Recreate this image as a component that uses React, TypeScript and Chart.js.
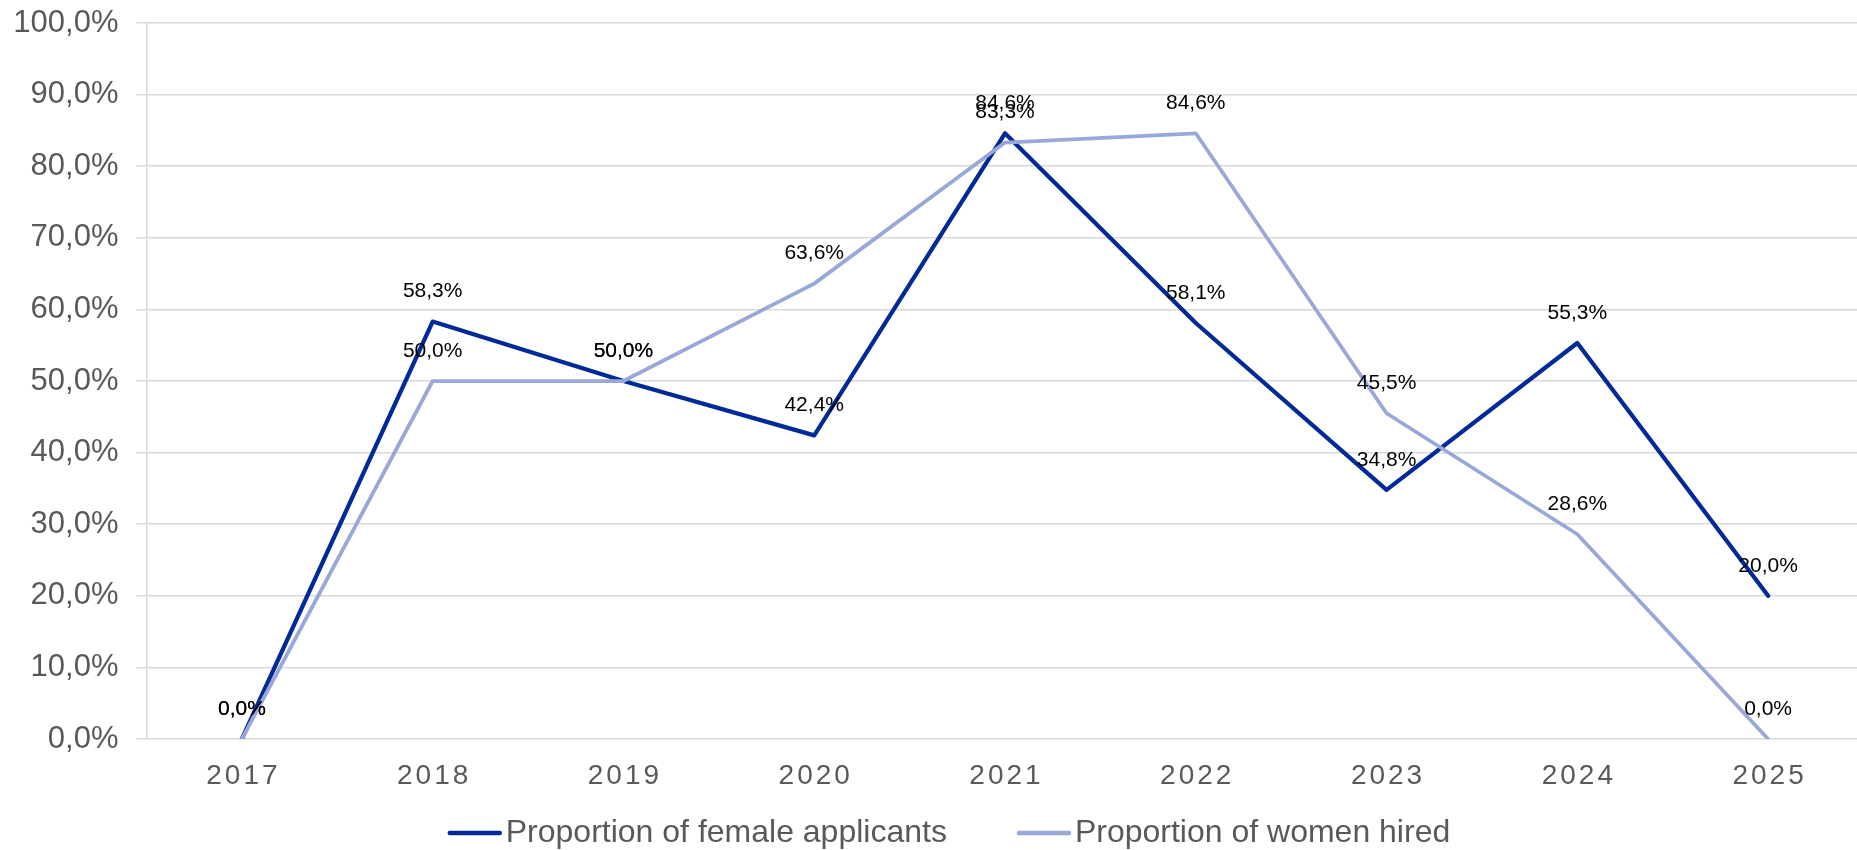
import React, { useEffect, useRef } from "react";
import { Chart, registerables } from "chart.js";

Chart.register(...registerables);

const years = ["2017", "2018", "2019", "2020", "2021", "2022", "2023", "2024", "2025"];
const femaleApplicants = [0, 58.3, 50.0, 42.4, 84.6, 58.1, 34.8, 55.3, 20.0];
const womenHired = [0, 50.0, 50.0, 63.6, 83.3, 84.6, 45.5, 28.6, 0.0];
const seriesNames = ["Proportion of female applicants", "Proportion of women hired"];
const yTicks = [0, 10, 20, 30, 40, 50, 60, 70, 80, 90, 100];

const DARK = "#002a97";
const LIGHT = "#99a8d8";
const FONT = "'Liberation Sans', Arial, sans-serif";

const fmt = (v: number) => v.toFixed(1).replace(".", ",") + "%";

const dataLabels = {
  id: "dataLabels",
  afterDatasetsDraw(chart: any) {
    const ctx = chart.ctx;
    ctx.save();
    ctx.font = `21px ${FONT}`;
    ctx.fillStyle = "#000000";
    ctx.textAlign = "center";
    ctx.textBaseline = "middle";
    chart.data.datasets.forEach((ds: any, i: number) => {
      const meta = chart.getDatasetMeta(i);
      meta.data.forEach((pt: any, j: number) => {
        const v = ds.data[j].y;
        ctx.fillText(fmt(v), pt.x, pt.y - 30);
      });
    });
    ctx.restore();
  },
};

const customLegend = {
  id: "customLegend",
  afterDraw(chart: any) {
    const ctx = chart.ctx;
    ctx.save();
    ctx.font = `32px ${FONT}`;
    ctx.textBaseline = "middle";
    ctx.textAlign = "left";
    const boxW = 54;
    const gapText = 4;
    const gapItems = 70;
    const items = chart.data.datasets.map((ds: any) => ({
      label: ds.label,
      color: ds.borderColor,
      w: boxW + gapText + ctx.measureText(ds.label).width,
    }));
    const total = items.reduce((s: number, it: any) => s + it.w, 0) + gapItems * (items.length - 1);
    let x = 949 - total / 2;
    const y = chart.height - 17;
    items.forEach((it: any) => {
      ctx.strokeStyle = it.color;
      ctx.lineWidth = 4.5;
      ctx.lineCap = "round";
      ctx.beginPath();
      ctx.moveTo(x + 2, y);
      ctx.lineTo(x + boxW - 2, y);
      ctx.stroke();
      ctx.fillStyle = "#595959";
      ctx.fillText(it.label, x + boxW + gapText, y);
      x += it.w + gapItems;
    });
    ctx.restore();
  },
};

const spacedXLabels = {
  id: "spacedXLabels",
  beforeDraw(chart: any) {
    const sc = chart.scales.x;
    if (sc && !sc.__patched) {
      const orig = sc.drawLabels.bind(sc);
      sc.drawLabels = (area: any) => {
        const ctx = sc.ctx;
        ctx.save();
        (ctx as any).letterSpacing = "3px";
        ctx.translate(1.5, 0);
        orig(area);
        ctx.restore();
      };
      sc.__patched = true;
    }
  },
};

export default function App() {
  const ref = useRef<HTMLCanvasElement | null>(null);

  useEffect(() => {
    document.body.style.margin = "0";
    if (!ref.current) return;
    const chart = new Chart(ref.current, {
      type: "line",
      data: {
        datasets: [
          {
            label: seriesNames[0],
            data: femaleApplicants.map((v, i) => ({ x: i, y: v })),
            borderColor: DARK,
            backgroundColor: DARK,
            borderWidth: 4.25,
            pointRadius: 0,
            borderCapStyle: "round",
            borderJoinStyle: "round",
            tension: 0,
            order: 1,
          },
          {
            label: seriesNames[1],
            data: womenHired.map((v, i) => ({ x: i, y: v })),
            borderColor: LIGHT,
            backgroundColor: LIGHT,
            borderWidth: 3.75,
            pointRadius: 0,
            borderCapStyle: "round",
            borderJoinStyle: "round",
            tension: 0,
            order: 0,
          },
        ],
      },
      options: {
        responsive: false,
        animation: false,
        layout: { padding: { top: 23, left: 0, right: 0, bottom: 51 } },
        plugins: {
          legend: { display: false },
          tooltip: { enabled: false },
        },
        scales: {
          x: {
            type: "linear",
            min: -0.5,
            max: 8.466,
            grid: { display: false, drawTicks: false },
            border: { display: false },
            afterFit: (s: any) => {
              s.height = 60;
              s.paddingLeft = 0;
              s.paddingRight = 0;
            },
            afterBuildTicks: (s: any) => {
              s.ticks = years.map((_, i) => ({ value: i }));
            },
            ticks: {
              autoSkip: false,
              maxRotation: 0,
              padding: 20,
              color: "#595959",
              font: { family: FONT, size: 28 },
              callback: (v: any) => (Number.isInteger(v) ? years[v] : ""),
            },
          },
          y: {
            min: 0,
            max: 100,
            afterFit: (s: any) => {
              s.width = 146.5;
              s.paddingTop = 0;
              s.paddingBottom = 0;
            },
            afterBuildTicks: (s: any) => {
              s.ticks = yTicks.map((v) => ({ value: v }));
            },
            grid: { color: "#d9d9d9", lineWidth: 1.5, tickLength: 10 },
            border: { display: true, color: "#d9d9d9", width: 1.5 },
            ticks: {
              padding: 18,
              color: "#595959",
              font: { family: FONT, size: 31 },
              callback: (v: any) => fmt(Number(v)),
            },
          },
        },
      },
      plugins: [dataLabels, customLegend, spacedXLabels],
    } as any);
    return () => chart.destroy();
  }, []);

  return (
    <div style={{ width: 1857, height: 850 }}>
      <canvas ref={ref} width={1857} height={850} style={{ display: "block" }} />
    </div>
  );
}
